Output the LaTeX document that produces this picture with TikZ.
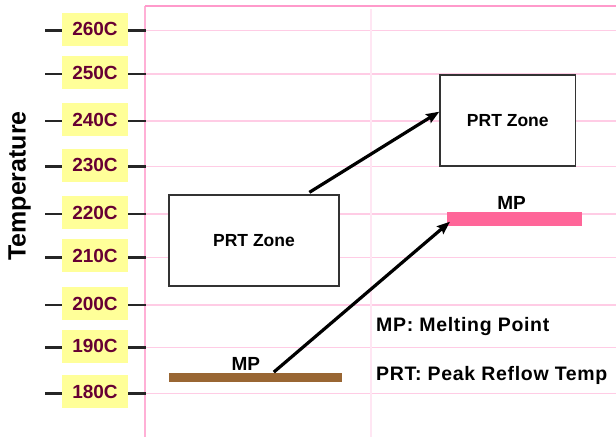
\documentclass[tikz,border=0pt]{standalone}
\usepackage{fontspec}
\setmainfont{Liberation Sans}
\newfontfamily\legendfont[LetterSpace=3.5]{Liberation Sans}
\usetikzlibrary{arrows.meta,calc}
\definecolor{gridpink}{HTML}{FFCCE5}
\definecolor{axispink}{HTML}{FFB0D6}
\definecolor{toppink}{HTML}{FF9ACB}
\definecolor{faintpink}{HTML}{FFE6F3}
\definecolor{labelyellow}{HTML}{FFFF99}
\definecolor{labelred}{HTML}{660033}
\definecolor{mpbrown}{HTML}{996633}
\definecolor{mppink}{HTML}{FF6699}
\tikzset{
  templabel/.style={fill=labelyellow, minimum width=66.6pt, minimum height=33pt,
    inner sep=0pt, text=labelred, font=\fontsize{19}{21}\selectfont\bfseries},
  tickline/.style={line width=2.6pt, draw=black!85},
  gridline/.style={draw=gridpink, line width=1.2pt},
  zonebox/.style={draw=black!80, line width=1.3pt, fill=white, inner sep=0pt,
    font=\fontsize{17.5}{20}\selectfont\bfseries},
  plaintext/.style={inner sep=0pt, font=\legendfont\fontsize{19.5}{22}\selectfont\bfseries, anchor=west},
  mptext/.style={inner sep=0pt, font=\fontsize{19}{21}\selectfont\bfseries},
  bigarrow/.style={line width=3.2pt, -{Stealth[length=13pt,width=10pt,inset=2pt]}},
}
\begin{document}
\begin{tikzpicture}[x=1pt,y=-1pt]
\useasboundingbox[fill=white] (0,0) rectangle (616,437);
% grid
\foreach \yy in {30.7,74,121,166.7,214,257.3,305,347.7,393.3}{
  \draw[gridline] (145,\yy) -- (616,\yy);
}
\draw[draw=faintpink, line width=1.2pt] (371,9) -- (371,437);
\draw[draw=axispink, line width=1.5pt] (145,6) -- (145,437);
\draw[draw=toppink, line width=1.6pt] (145,6) -- (616,6);
% axis labels
\foreach \yy/\tt in {30.7/260,74/250,121/240,166.7/230,214/220,257.3/210,305/200,347.7/190,393.3/180}{
  \node[templabel] (t\tt) at (95,\yy-1.5) {\tt C};
  \draw[tickline] (45,\yy) -- (61.7,\yy);
  \draw[tickline] (128.3,\yy) -- (145.5,\yy);
}
\node[rotate=90, inner sep=0pt, font=\fontsize{25}{28}\selectfont\bfseries] (ylab) at (19.5,186) {Temperature};
% zones
\node[zonebox, minimum width=170pt, minimum height=91pt] (zone1) at (254,240.5) {PRT Zone};
\node[zonebox, minimum width=135.7pt, minimum height=91pt] (zone2) at (507.8,120.5) {PRT Zone};
% MP bars
\node[fill=mpbrown, inner sep=0pt, minimum width=173pt, minimum height=9pt] (bar1) at (255.8,377.8) {};
\node[fill=mppink, inner sep=0pt, minimum width=135pt, minimum height=13.7pt] (bar2) at (514.2,219.2) {};
\node[mptext] (mp1) at (245.8,363.7) {MP};
\node[mptext] (mp2) at (511.5,203.3) {MP};
% arrows
\coordinate (a1s) at ($(zone1.north west)+(141,-2)$);
\coordinate (a2s) at ($(bar1.north west)+(104.7,-1)$);
\draw[bigarrow] (a1s) -- ([yshift=8.8pt]zone2.west);
\draw[bigarrow] (a2s) -- ([xshift=3.5pt,yshift=-2.5pt]bar2.west);
% legend
\node[plaintext] (leg1) at (376,326) {MP: Melting Point};
\node[plaintext] (leg2) at (376,375) {PRT: Peak Reflow Temp};
\end{tikzpicture}
\end{document}
